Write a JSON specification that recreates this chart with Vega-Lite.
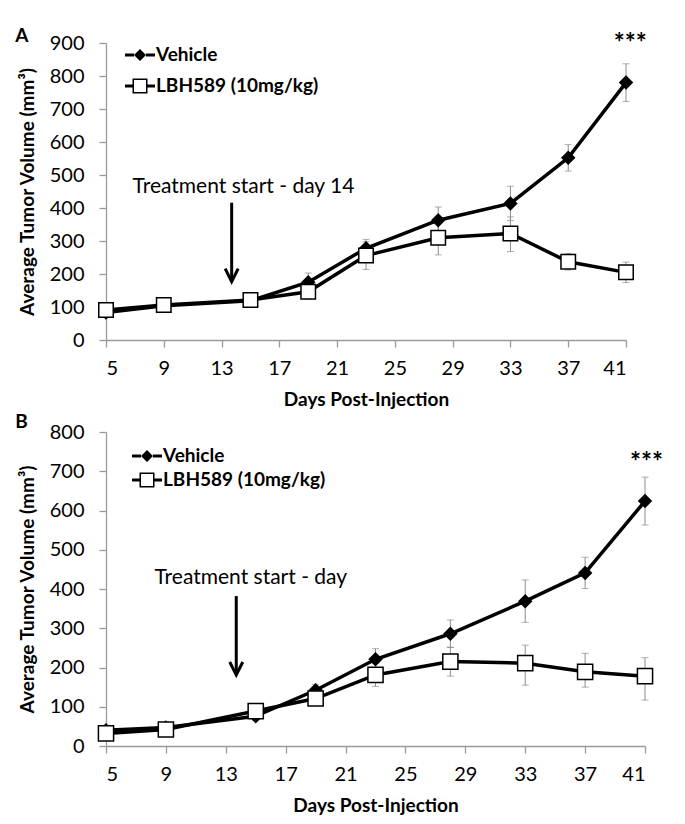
{
  "$schema": "https://vega.github.io/schema/vega-lite/v6.json",
  "padding": {"left": 15, "top": 26, "right": 5, "bottom": 5},
  "background": "white",
  "spacing": 4,
  "resolve": {"scale": {"shape": "independent"}, "legend": {"shape": "independent"}},
  "config": {
    "font": "Lato",
    "view": {"stroke": null},
    "axis": {
      "grid": false,
      "domainColor": "#9a9a9a",
      "tickColor": "#9a9a9a",
      "domainWidth": 1.3,
      "tickWidth": 1.3,
      "tickSize": 7,
      "labelColor": "black",
      "labelFont": "Lato",
      "labelFontSize": 20,
      "labelOverlap": false,
      "titleColor": "black",
      "titleFont": "Lato",
      "titleFontWeight": "bold",
      "titleFontSize": 19
    },
    "axisX": {"titlePadding": 12, "labelPadding": 11},
    "axisY": {"titlePadding": 12, "labelPadding": 15},
    "title": {"font": "Lato", "fontWeight": "bold", "fontSize": 19, "color": "black", "anchor": "start", "frame": "bounds", "offset": 0}
  },
  "datasets": {
    "a": [
      {"day": 5, "series": "Vehicle", "mean": 83, "lo": 73, "hi": 93},
      {"day": 9, "series": "Vehicle", "mean": 104, "lo": 96, "hi": 112},
      {"day": 15, "series": "Vehicle", "mean": 119, "lo": 109, "hi": 129},
      {"day": 19, "series": "Vehicle", "mean": 175, "lo": 147, "hi": 203},
      {"day": 23, "series": "Vehicle", "mean": 278, "lo": 251, "hi": 305},
      {"day": 28, "series": "Vehicle", "mean": 363, "lo": 323, "hi": 403},
      {"day": 33, "series": "Vehicle", "mean": 414, "lo": 362, "hi": 466},
      {"day": 37, "series": "Vehicle", "mean": 552, "lo": 512, "hi": 592},
      {"day": 41, "series": "Vehicle", "mean": 780, "lo": 723, "hi": 837},
      {"day": 5, "series": "LBH589 (10mg/kg)", "mean": 91, "lo": 81, "hi": 101},
      {"day": 9, "series": "LBH589 (10mg/kg)", "mean": 106, "lo": 98, "hi": 114},
      {"day": 15, "series": "LBH589 (10mg/kg)", "mean": 121, "lo": 113, "hi": 129},
      {"day": 19, "series": "LBH589 (10mg/kg)", "mean": 146, "lo": 124, "hi": 168},
      {"day": 23, "series": "LBH589 (10mg/kg)", "mean": 256, "lo": 214, "hi": 298},
      {"day": 28, "series": "LBH589 (10mg/kg)", "mean": 310, "lo": 258, "hi": 362},
      {"day": 33, "series": "LBH589 (10mg/kg)", "mean": 323, "lo": 268, "hi": 373},
      {"day": 37, "series": "LBH589 (10mg/kg)", "mean": 237, "lo": 212, "hi": 262},
      {"day": 41, "series": "LBH589 (10mg/kg)", "mean": 205, "lo": 174, "hi": 236}
    ],
    "b": [
      {"day": 5, "series": "Vehicle", "mean": 40, "lo": 30, "hi": 50},
      {"day": 9, "series": "Vehicle", "mean": 47, "lo": 37, "hi": 57},
      {"day": 15, "series": "Vehicle", "mean": 76, "lo": 66, "hi": 86},
      {"day": 19, "series": "Vehicle", "mean": 142, "lo": 127, "hi": 157},
      {"day": 23, "series": "Vehicle", "mean": 221, "lo": 194, "hi": 248},
      {"day": 28, "series": "Vehicle", "mean": 286, "lo": 251, "hi": 321},
      {"day": 33, "series": "Vehicle", "mean": 369, "lo": 315, "hi": 423},
      {"day": 37, "series": "Vehicle", "mean": 441, "lo": 401, "hi": 481},
      {"day": 41, "series": "Vehicle", "mean": 624, "lo": 563, "hi": 685},
      {"day": 5, "series": "LBH589 (10mg/kg)", "mean": 32, "lo": 24, "hi": 40},
      {"day": 9, "series": "LBH589 (10mg/kg)", "mean": 42, "lo": 34, "hi": 50},
      {"day": 15, "series": "LBH589 (10mg/kg)", "mean": 89, "lo": 71, "hi": 107},
      {"day": 19, "series": "LBH589 (10mg/kg)", "mean": 121, "lo": 109, "hi": 133},
      {"day": 23, "series": "LBH589 (10mg/kg)", "mean": 181, "lo": 152, "hi": 210},
      {"day": 28, "series": "LBH589 (10mg/kg)", "mean": 215, "lo": 178, "hi": 252},
      {"day": 33, "series": "LBH589 (10mg/kg)", "mean": 211, "lo": 155, "hi": 257},
      {"day": 37, "series": "LBH589 (10mg/kg)", "mean": 189, "lo": 150, "hi": 236},
      {"day": 41, "series": "LBH589 (10mg/kg)", "mean": 178, "lo": 117, "hi": 225}
    ]
  },
  "vconcat": [
    {
      "title": {"text": "A", "dx": -3, "dy": 19},
      "width": 520,
      "height": 297,
      "data": {"name": "a"},
      "layer": [
        {
          "mark": {"type": "errorbar", "ticks": {"size": 7}, "color": "#8c8c8c", "thickness": 1},
          "encoding": {
            "x": {"field": "day", "type": "quantitative", "title": "Days Post-Injection", "scale": {"domain": [5, 41], "nice": false, "zero": false}, "axis": {"values": [5, 9, 13, 17, 21, 25, 29, 33, 37, 41]}},
            "y": {"field": "lo", "type": "quantitative", "title": "Average Tumor Volume (mm³)", "scale": {"domain": [0, 900], "nice": false}, "axis": {"values": [0, 100, 200, 300, 400, 500, 600, 700, 800, 900]}},
            "y2": {"field": "hi"},
            "detail": {"field": "series"}
          }
        },
        {
          "mark": {"type": "line", "color": "black", "strokeWidth": 3.5},
          "encoding": {
            "x": {"field": "day", "type": "quantitative", "title": "Days Post-Injection", "axis": {"values": [5, 9, 13, 17, 21, 25, 29, 33, 37, 41]}},
            "y": {"field": "mean", "type": "quantitative", "title": "Average Tumor Volume (mm³)", "axis": {"values": [0, 100, 200, 300, 400, 500, 600, 700, 800, 900]}},
            "detail": {"field": "series"}
          }
        },
        {
          "transform": [{"filter": "datum.series === 'Vehicle'"}],
          "mark": {"type": "point", "shape": "diamond", "filled": true, "color": "black", "size": 210, "opacity": 1},
          "encoding": {
            "x": {"field": "day", "type": "quantitative", "title": "Days Post-Injection", "axis": {"values": [5, 9, 13, 17, 21, 25, 29, 33, 37, 41]}},
            "y": {"field": "mean", "type": "quantitative", "title": "Average Tumor Volume (mm³)", "axis": {"values": [0, 100, 200, 300, 400, 500, 600, 700, 800, 900]}}
          }
        },
        {
          "transform": [{"filter": "datum.series !== 'Vehicle'"}],
          "mark": {"type": "point", "shape": "square", "filled": false, "fill": "white", "stroke": "black", "strokeWidth": 1.5, "size": 210, "opacity": 1},
          "encoding": {
            "x": {"field": "day", "type": "quantitative", "title": "Days Post-Injection", "axis": {"values": [5, 9, 13, 17, 21, 25, 29, 33, 37, 41]}},
            "y": {"field": "mean", "type": "quantitative", "title": "Average Tumor Volume (mm³)", "axis": {"values": [0, 100, 200, 300, 400, 500, 600, 700, 800, 900]}}
          }
        },
        {
          "transform": [{"filter": "false"}],
          "mark": {"type": "point", "filled": true, "color": "black", "opacity": 1},
          "encoding": {
            "x": {"field": "day", "type": "quantitative", "title": "Days Post-Injection", "axis": {"values": [5, 9, 13, 17, 21, 25, 29, 33, 37, 41]}},
            "y": {"field": "mean", "type": "quantitative", "title": "Average Tumor Volume (mm³)", "axis": {"values": [0, 100, 200, 300, 400, 500, 600, 700, 800, 900]}},
            "shape": {
              "field": "series",
              "type": "nominal",
              "scale": {
                "domain": ["Vehicle", "LBH589 (10mg/kg)"],
                "range": [
                  "M-1.5,-0.15H-0.6V0.15H-1.5ZM0.6,-0.15H1.5V0.15H0.6ZM0,-0.6L0.6,0L0,0.6L-0.6,0Z",
                  "M-1.5,-0.15H-0.75V0.15H-1.5ZM0.75,-0.15H1.5V0.15H0.75ZM-0.75,-0.75H0.75V0.75H-0.75ZM-0.6,-0.6V0.6H0.6V-0.6Z"
                ]
              },
              "legend": {
                "title": null,
                "orient": "none",
                "legendX": 24,
                "legendY": 2,
                "padding": 0,
                "symbolSize": 400,
                "symbolFillColor": "black",
                "symbolStrokeWidth": 0,
                "symbolOpacity": 1,
                "labelFont": "Lato",
                "labelFontSize": 19,
                "labelFontWeight": "bold",
                "labelColor": "black",
                "labelOffset": 6,
                "labelLimit": 0,
                "rowPadding": 11
              }
            }
          }
        },
        {
          "data": {"values": [{}]},
          "mark": {"type": "text", "text": "Treatment start - day 14", "font": "Lato", "fontSize": 21, "align": "left", "baseline": "middle", "color": "black"},
          "encoding": {
            "x": {"datum": 6.84, "type": "quantitative", "axis": {"values": [5, 9, 13, 17, 21, 25, 29, 33, 37, 41]}},
            "y": {"datum": 464, "type": "quantitative", "axis": {"values": [0, 100, 200, 300, 400, 500, 600, 700, 800, 900]}}
          }
        },
        {
          "data": {"values": [{}]},
          "mark": {"type": "rule", "color": "black", "strokeWidth": 3},
          "encoding": {
            "x": {"datum": 13.7, "type": "quantitative", "axis": {"values": [5, 9, 13, 17, 21, 25, 29, 33, 37, 41]}},
            "y": {"datum": 416, "type": "quantitative", "axis": {"values": [0, 100, 200, 300, 400, 500, 600, 700, 800, 900]}},
            "y2": {"datum": 180}
          }
        },
        {
          "data": {"values": [{}]},
          "mark": {"type": "point", "shape": "M-0.5,-1L0,0L0.5,-1", "filled": false, "color": "black", "strokeWidth": 3, "size": 676, "opacity": 1},
          "encoding": {
            "x": {"datum": 13.7, "type": "quantitative", "axis": {"values": [5, 9, 13, 17, 21, 25, 29, 33, 37, 41]}},
            "y": {"datum": 177, "type": "quantitative", "axis": {"values": [0, 100, 200, 300, 400, 500, 600, 700, 800, 900]}}
          }
        },
        {
          "data": {"values": [{}]},
          "mark": {"type": "text", "text": "***", "font": "Lato", "fontSize": 26, "fontWeight": "bold", "align": "center", "baseline": "middle", "color": "black", "clip": false},
          "encoding": {
            "x": {"datum": 41.3, "type": "quantitative", "axis": {"values": [5, 9, 13, 17, 21, 25, 29, 33, 37, 41]}},
            "y": {"datum": 898, "type": "quantitative", "axis": {"values": [0, 100, 200, 300, 400, 500, 600, 700, 800, 900]}}
          }
        }
      ]
    },
    {
      "title": {"text": "B", "dx": -3, "dy": 14},
      "width": 539,
      "height": 314,
      "data": {"name": "b"},
      "layer": [
        {
          "mark": {"type": "errorbar", "ticks": {"size": 7}, "color": "#8c8c8c", "thickness": 1},
          "encoding": {
            "x": {"field": "day", "type": "quantitative", "title": "Days Post-Injection", "scale": {"domain": [5, 41], "nice": false, "zero": false}, "axis": {"values": [5, 9, 13, 17, 21, 25, 29, 33, 37, 41]}},
            "y": {"field": "lo", "type": "quantitative", "title": "Average Tumor Volume (mm³)", "scale": {"domain": [0, 800], "nice": false}, "axis": {"values": [0, 100, 200, 300, 400, 500, 600, 700, 800]}},
            "y2": {"field": "hi"},
            "detail": {"field": "series"}
          }
        },
        {
          "mark": {"type": "line", "color": "black", "strokeWidth": 3.5},
          "encoding": {
            "x": {"field": "day", "type": "quantitative", "title": "Days Post-Injection", "axis": {"values": [5, 9, 13, 17, 21, 25, 29, 33, 37, 41]}},
            "y": {"field": "mean", "type": "quantitative", "title": "Average Tumor Volume (mm³)", "axis": {"values": [0, 100, 200, 300, 400, 500, 600, 700, 800]}},
            "detail": {"field": "series"}
          }
        },
        {
          "transform": [{"filter": "datum.series === 'Vehicle'"}],
          "mark": {"type": "point", "shape": "diamond", "filled": true, "color": "black", "size": 210, "opacity": 1},
          "encoding": {
            "x": {"field": "day", "type": "quantitative", "title": "Days Post-Injection", "axis": {"values": [5, 9, 13, 17, 21, 25, 29, 33, 37, 41]}},
            "y": {"field": "mean", "type": "quantitative", "title": "Average Tumor Volume (mm³)", "axis": {"values": [0, 100, 200, 300, 400, 500, 600, 700, 800]}}
          }
        },
        {
          "transform": [{"filter": "datum.series !== 'Vehicle'"}],
          "mark": {"type": "point", "shape": "square", "filled": false, "fill": "white", "stroke": "black", "strokeWidth": 1.5, "size": 230, "opacity": 1},
          "encoding": {
            "x": {"field": "day", "type": "quantitative", "title": "Days Post-Injection", "axis": {"values": [5, 9, 13, 17, 21, 25, 29, 33, 37, 41]}},
            "y": {"field": "mean", "type": "quantitative", "title": "Average Tumor Volume (mm³)", "axis": {"values": [0, 100, 200, 300, 400, 500, 600, 700, 800]}}
          }
        },
        {
          "transform": [{"filter": "false"}],
          "mark": {"type": "point", "filled": true, "color": "black", "opacity": 1},
          "encoding": {
            "x": {"field": "day", "type": "quantitative", "title": "Days Post-Injection", "axis": {"values": [5, 9, 13, 17, 21, 25, 29, 33, 37, 41]}},
            "y": {"field": "mean", "type": "quantitative", "title": "Average Tumor Volume (mm³)", "axis": {"values": [0, 100, 200, 300, 400, 500, 600, 700, 800]}},
            "shape": {
              "field": "series",
              "type": "nominal",
              "scale": {
                "domain": ["Vehicle", "LBH589 (10mg/kg)"],
                "range": [
                  "M-1.5,-0.15H-0.6V0.15H-1.5ZM0.6,-0.15H1.5V0.15H0.6ZM0,-0.6L0.6,0L0,0.6L-0.6,0Z",
                  "M-1.5,-0.15H-0.75V0.15H-1.5ZM0.75,-0.15H1.5V0.15H0.75ZM-0.75,-0.75H0.75V0.75H-0.75ZM-0.6,-0.6V0.6H0.6V-0.6Z"
                ]
              },
              "legend": {
                "title": null,
                "orient": "none",
                "legendX": 31,
                "legendY": 14,
                "padding": 0,
                "symbolSize": 400,
                "symbolFillColor": "black",
                "symbolStrokeWidth": 0,
                "symbolOpacity": 1,
                "labelFont": "Lato",
                "labelFontSize": 19,
                "labelFontWeight": "bold",
                "labelColor": "black",
                "labelOffset": 6,
                "labelLimit": 0,
                "rowPadding": 4
              }
            }
          }
        },
        {
          "data": {"values": [{}]},
          "mark": {"type": "text", "text": "Treatment start - day", "font": "Lato", "fontSize": 21, "align": "left", "baseline": "middle", "color": "black"},
          "encoding": {
            "x": {"datum": 8.24, "type": "quantitative", "axis": {"values": [5, 9, 13, 17, 21, 25, 29, 33, 37, 41]}},
            "y": {"datum": 429, "type": "quantitative", "axis": {"values": [0, 100, 200, 300, 400, 500, 600, 700, 800]}}
          }
        },
        {
          "data": {"values": [{}]},
          "mark": {"type": "rule", "color": "black", "strokeWidth": 3},
          "encoding": {
            "x": {"datum": 13.7, "type": "quantitative", "axis": {"values": [5, 9, 13, 17, 21, 25, 29, 33, 37, 41]}},
            "y": {"datum": 382, "type": "quantitative", "axis": {"values": [0, 100, 200, 300, 400, 500, 600, 700, 800]}},
            "y2": {"datum": 184}
          }
        },
        {
          "data": {"values": [{}]},
          "mark": {"type": "point", "shape": "M-0.5,-1L0,0L0.5,-1", "filled": false, "color": "black", "strokeWidth": 3, "size": 676, "opacity": 1},
          "encoding": {
            "x": {"datum": 13.7, "type": "quantitative", "axis": {"values": [5, 9, 13, 17, 21, 25, 29, 33, 37, 41]}},
            "y": {"datum": 181, "type": "quantitative", "axis": {"values": [0, 100, 200, 300, 400, 500, 600, 700, 800]}}
          }
        },
        {
          "data": {"values": [{}]},
          "mark": {"type": "text", "text": "***", "font": "Lato", "fontSize": 26, "fontWeight": "bold", "align": "center", "baseline": "middle", "color": "black", "clip": false},
          "encoding": {
            "x": {"datum": 41.1, "type": "quantitative", "axis": {"values": [5, 9, 13, 17, 21, 25, 29, 33, 37, 41]}},
            "y": {"datum": 722, "type": "quantitative", "axis": {"values": [0, 100, 200, 300, 400, 500, 600, 700, 800]}}
          }
        }
      ]
    }
  ]
}
